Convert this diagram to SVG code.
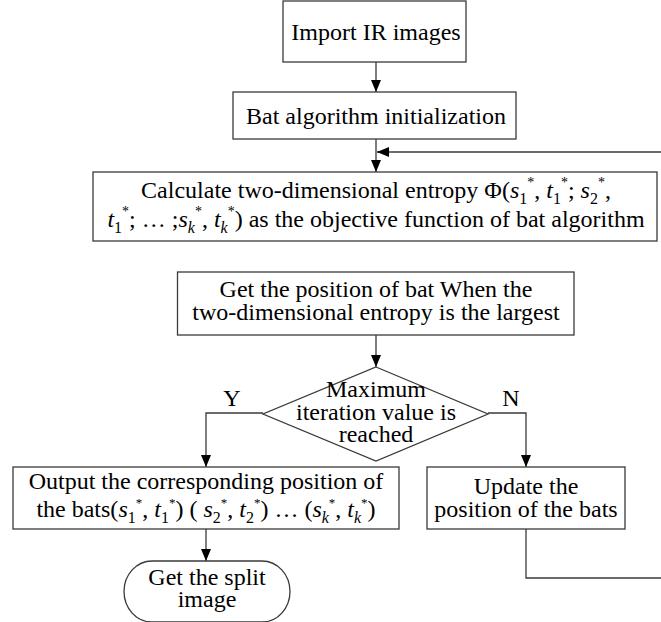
<svg xmlns="http://www.w3.org/2000/svg" width="661" height="622" viewBox="0 0 661 622">
  <style>
    .box{fill:#fff;stroke:#3a3a3a;stroke-width:1.3}
    .conn{fill:none;stroke:#3a3a3a;stroke-width:1.3}
    .t{font-family:"Liberation Serif","Times New Roman",serif;font-size:24px;fill:#000;text-anchor:middle}
    .i{font-style:italic}
    .sub{font-size:16px}
    .sup{font-size:14px}
    .sup2{font-size:13px}
  </style>
  <defs>
    <marker id="arrow" markerUnits="userSpaceOnUse" markerWidth="12" markerHeight="10" refX="12" refY="5" orient="auto">
      <path d="M0,0 L12,5 L0,10 Z" fill="#000"/>
    </marker>
  </defs>

  <rect width="661" height="622" fill="#fff"/>

  <!-- connectors -->
  <g id="connectors">
    <path class="conn" d="M376,62 V92" marker-end="url(#arrow)"/>
    <path class="conn" d="M376,139 V172" marker-end="url(#arrow)"/>
    <path class="conn" d="M376,335 V367" marker-end="url(#arrow)"/>
    <path class="conn" d="M263,413 H206 V467" marker-end="url(#arrow)"/>
    <path class="conn" d="M488,413 H526 V467" marker-end="url(#arrow)"/>
    <path class="conn" d="M206,529 V561" marker-end="url(#arrow)"/>
    <path class="conn" d="M526,529 V578 H672 V152 H377" marker-end="url(#arrow)"/>
    <text class="t" x="232" y="406">Y</text>
    <text class="t" x="511" y="406">N</text>
  </g>

  <!-- start -->
  <g id="import">
    <rect class="box" x="283" y="1" width="183" height="61"/>
    <text class="t" x="376" y="40">Import IR images</text>
  </g>

  <g id="init">
    <rect class="box" x="233" y="92" width="283" height="47"/>
    <text class="t" x="376" y="124">Bat algorithm initialization</text>
  </g>

  <!-- objective function -->
  <g id="entropy">
    <rect class="box" x="93" y="172" width="564" height="69"/>
    <text class="t" x="376" y="198">Calculate two-dimensional entropy Φ(<tspan class="i">s</tspan><tspan class="sub" dy="6">1</tspan><tspan class="sup" dy="-17">*</tspan><tspan dy="11">, </tspan><tspan class="i">t</tspan><tspan class="sub" dy="6">1</tspan><tspan class="sup" dy="-17">*</tspan><tspan dy="11">; </tspan><tspan class="i">s</tspan><tspan class="sub" dy="6">2</tspan><tspan class="sup" dy="-17">*</tspan><tspan dy="11">,</tspan></text>
    <text class="t" x="376" y="227"><tspan class="i">t</tspan><tspan class="sub" dy="6">1</tspan><tspan class="sup" dy="-17">*</tspan><tspan dy="11">; … ;</tspan><tspan class="i">s</tspan><tspan class="sub i" dy="6">k</tspan><tspan class="sup" dy="-17">*</tspan><tspan dy="11">, </tspan><tspan class="i">t</tspan><tspan class="sub i" dy="6">k</tspan><tspan class="sup" dy="-17">*</tspan><tspan dy="11">) as the objective function of bat algorithm</tspan></text>
  </g>

  <g id="best">
    <rect class="box" x="177.5" y="272" width="396.5" height="63"/>
    <text class="t" x="376" y="297">Get the position of bat  When the</text>
    <text class="t" x="376" y="320">two-dimensional entropy is the largest</text>
  </g>

  <!-- decision -->
  <g id="decision">
    <path class="box" d="M376,367 L488,414 L376,461 L263,414 Z"/>
    <text class="t" x="376" y="397">Maximum</text>
    <text class="t" x="376" y="420">iteration value is</text>
    <text class="t" x="376" y="442">reached</text>
  </g>

  <g id="output">
    <rect class="box" x="13" y="467" width="386" height="62"/>
    <text class="t" x="206" y="489">Output the corresponding position of</text>
    <text class="t" x="206" y="517">the bats(<tspan class="i">s</tspan><tspan class="sub" dy="6">1</tspan><tspan class="sup2" dy="-16">*</tspan><tspan dy="10">, </tspan><tspan class="i">t</tspan><tspan class="sub" dy="6">1</tspan><tspan class="sup2" dy="-16">*</tspan><tspan dy="10">) ( </tspan><tspan class="i">s</tspan><tspan class="sub" dy="6">2</tspan><tspan class="sup2" dy="-16">*</tspan><tspan dy="10">, </tspan><tspan class="i">t</tspan><tspan class="sub" dy="6">2</tspan><tspan class="sup2" dy="-16">*</tspan><tspan dy="10">) … (</tspan><tspan class="i">s</tspan><tspan class="sub i" dy="6">k</tspan><tspan class="sup2" dy="-16">*</tspan><tspan dy="10">, </tspan><tspan class="i">t</tspan><tspan class="sub i" dy="6">k</tspan><tspan class="sup2" dy="-16">*</tspan><tspan dy="10">)</tspan></text>
  </g>

  <g id="update">
    <rect class="box" x="427" y="467" width="198" height="62"/>
    <text class="t" x="526" y="494">Update the</text>
    <text class="t" x="526" y="517">position of the bats</text>
  </g>

  <!-- end -->
  <g id="end">
    <path class="box" d="M152,561 H262 A28 30.5 0 0 1 262,622 H152 A28 30.5 0 0 1 152,561 Z"/>
    <text class="t" x="207" y="585">Get the split</text>
    <text class="t" x="207" y="607">image</text>
  </g>
</svg>
